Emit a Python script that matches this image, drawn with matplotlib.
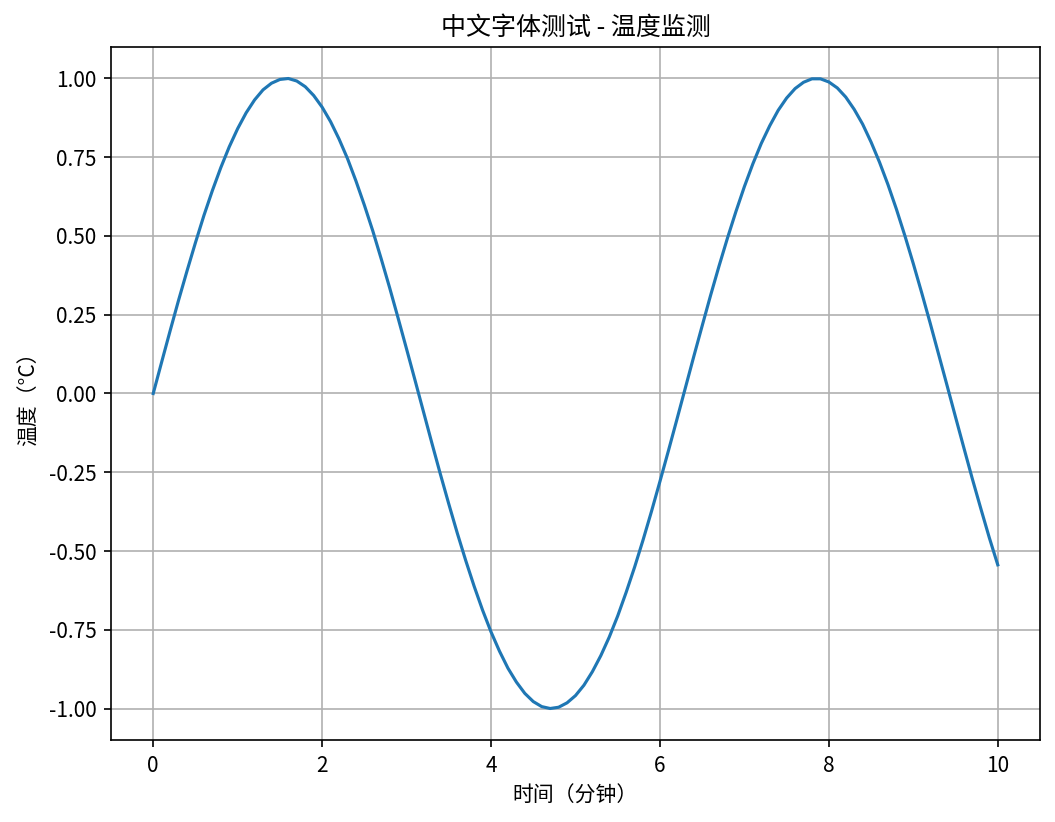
import matplotlib
matplotlib.use("Agg")
import matplotlib.pyplot as plt

plt.rcParams["font.family"] = ["Noto Sans CJK SC", "DejaVu Sans"]
plt.rcParams["axes.unicode_minus"] = False

# time (minutes) and temperature
minutes = [0.0, 0.1, 0.2, 0.3, 0.4, 0.5, 0.6, 0.7, 0.8, 0.9,
           1.0, 1.1, 1.2, 1.3, 1.4, 1.5, 1.6, 1.7, 1.8, 1.9,
           2.0, 2.1, 2.2, 2.3, 2.4, 2.5, 2.6, 2.7, 2.8, 2.9,
           3.0, 3.1, 3.2, 3.3, 3.4, 3.5, 3.6, 3.7, 3.8, 3.9,
           4.0, 4.1, 4.2, 4.3, 4.4, 4.5, 4.6, 4.7, 4.8, 4.9,
           5.0, 5.1, 5.2, 5.3, 5.4, 5.5, 5.6, 5.7, 5.8, 5.9,
           6.0, 6.1, 6.2, 6.3, 6.4, 6.5, 6.6, 6.7, 6.8, 6.9,
           7.0, 7.1, 7.2, 7.3, 7.4, 7.5, 7.6, 7.7, 7.8, 7.9,
           8.0, 8.1, 8.2, 8.3, 8.4, 8.5, 8.6, 8.7, 8.8, 8.9,
           9.0, 9.1, 9.2, 9.3, 9.4, 9.5, 9.6, 9.7, 9.8, 9.9, 10.0]
temperature = [0.000, 0.100, 0.199, 0.296, 0.389, 0.479, 0.565, 0.644, 0.717, 0.783,
               0.841, 0.891, 0.932, 0.964, 0.985, 0.997, 1.000, 0.992, 0.974, 0.946,
               0.909, 0.863, 0.808, 0.746, 0.675, 0.598, 0.516, 0.427, 0.335, 0.239,
               0.141, 0.042, -0.058, -0.158, -0.256, -0.351, -0.443, -0.530, -0.612, -0.688,
               -0.757, -0.818, -0.872, -0.916, -0.952, -0.978, -0.994, -1.000, -0.996, -0.982,
               -0.959, -0.926, -0.883, -0.832, -0.773, -0.706, -0.631, -0.551, -0.465, -0.374,
               -0.279, -0.182, -0.083, 0.017, 0.117, 0.215, 0.312, 0.405, 0.494, 0.578,
               0.657, 0.729, 0.794, 0.850, 0.899, 0.938, 0.968, 0.988, 0.999, 0.999,
               0.989, 0.970, 0.941, 0.902, 0.855, 0.798, 0.734, 0.663, 0.585, 0.501,
               0.412, 0.319, 0.223, 0.124, 0.025, -0.075, -0.174, -0.272, -0.366, -0.458, -0.544]

ytick_vals = [-1.0, -0.75, -0.5, -0.25, 0.0, 0.25, 0.5, 0.75, 1.0]
ytick_labels = ["-1.00", "-0.75", "-0.50", "-0.25", "0.00",
                "0.25", "0.50", "0.75", "1.00"]

W, H = 1055, 822
fig = plt.figure(figsize=(W / 150, H / 150), dpi=150)
ax = fig.add_axes([111 / W, 1 - 740 / H, (1040 - 111) / W, (740 - 47) / H])

ax.plot(minutes, temperature, color="#1f77b4", linewidth=1.5)
ax.set_title("中文字体测试 - 温度监测")
ax.set_xlabel("时间（分钟）")
ax.set_ylabel("温度（°C）")
ax.set_yticks(ytick_vals)
ax.set_yticklabels(ytick_labels)
ax.set_ylim(-1.1, 1.1)
ax.set_xlim(-0.5, 10.5)
ax.grid(True)

fig.savefig("out.png", dpi=150)
